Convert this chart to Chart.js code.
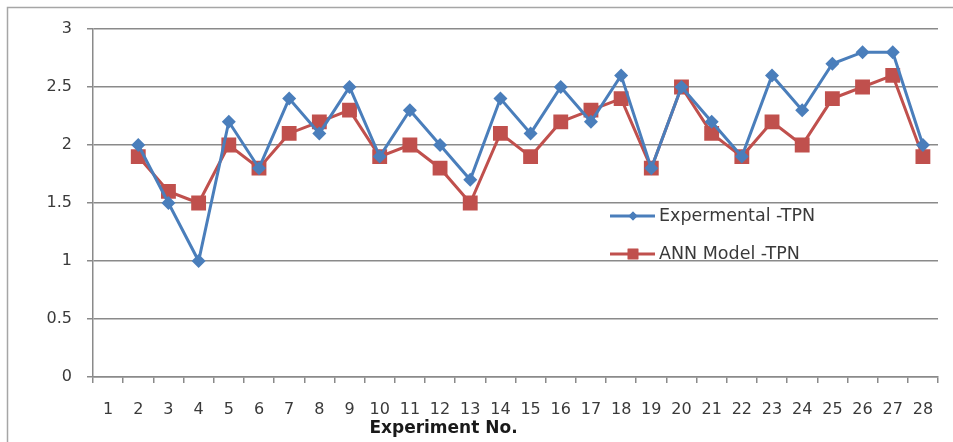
<!DOCTYPE html>
<html>
<head>
<meta charset="utf-8">
<script src="https://cdn.jsdelivr.net/npm/chart.js@4/dist/chart.umd.min.js"></script>
<style>
  html, body { margin: 0; padding: 0; background: #fff; }
  #wrap { width: 953px; height: 442px; }
</style>
</head>
<body>
<div id="wrap"><canvas id="c" width="953" height="442"></canvas></div>
<script>
// Experiment numbers shown on the category axis
const experiments = ['1','2','3','4','5','6','7','8','9','10','11','12','13','14','15','16','17','18','19','20','21','22','23','24','25','26','27','28'];

// Measured TPN values (experiment 1 has no entry)
const experimentalTPN = [null, 2.0, 1.5, 1.0, 2.2, 1.8, 2.4, 2.1, 2.5, 1.9, 2.3, 2.0, 1.7, 2.4, 2.1, 2.5, 2.2, 2.6, 1.8, 2.5, 2.2, 1.9, 2.6, 2.3, 2.7, 2.8, 2.8, 2.0];

// ANN model predictions
const annModelTPN = [null, 1.9, 1.6, 1.5, 2.0, 1.8, 2.1, 2.2, 2.3, 1.9, 2.0, 1.8, 1.5, 2.1, 1.9, 2.2, 2.3, 2.4, 1.8, 2.5, 2.1, 1.9, 2.2, 2.0, 2.4, 2.5, 2.6, 1.9];

// Value axis tick labels
const yTickLabels = ['0', '0.5', '1', '1.5', '2', '2.5', '3'];

const seriesNames = ['Expermental -TPN', 'ANN Model -TPN'];

const BLUE = '#4a7ebb';
const RED = '#c0504d';
const GRID = '#8a8a8a';
const TEXT = '#3a3a3a';
const FONT = '"DejaVu Sans", sans-serif';

// Light frame around the whole chart
const framePlugin = {
  id: 'frame',
  beforeDraw(chart) {
    const ctx = chart.ctx;
    ctx.save();
    ctx.fillStyle = '#fff';
    ctx.fillRect(0, 0, chart.width, chart.height);
    ctx.strokeStyle = '#a6a6a6';
    ctx.lineWidth = 1.5;
    ctx.strokeRect(7.5, 7.5, chart.width + 20, chart.height + 20);
    ctx.restore();
  }
};

// Axis title under the category labels
const axisTitlePlugin = {
  id: 'axisTitle',
  afterDraw(chart) {
    const ctx = chart.ctx;
    ctx.save();
    ctx.font = 'bold 17px ' + FONT;
    ctx.fillStyle = '#1a1a1a';
    ctx.textAlign = 'center';
    ctx.textBaseline = 'alphabetic';
    ctx.fillText('Experiment No.', 443.5, 433);
    ctx.restore();
  }
};

// Legend placed inside the plot area
const innerLegendPlugin = {
  id: 'innerLegend',
  afterDatasetsDraw(chart) {
    const ctx = chart.ctx;
    const items = [
      { name: seriesNames[0], color: BLUE, style: 'rectRot', radius: 4.5, y: 216 },
      { name: seriesNames[1], color: RED, style: 'rect', radius: 7.5, y: 254 }
    ];
    ctx.save();
    items.forEach(it => {
      ctx.strokeStyle = it.color;
      ctx.lineWidth = 3;
      ctx.beginPath();
      ctx.moveTo(610, it.y);
      ctx.lineTo(655, it.y);
      ctx.stroke();
      ctx.fillStyle = it.color;
      Chart.helpers.drawPoint(ctx, { pointStyle: it.style, radius: it.radius, borderWidth: 0, rotation: 0 }, 633, it.y);
      ctx.fill();
      ctx.font = '17.5px ' + FONT;
      ctx.fillStyle = TEXT;
      ctx.textAlign = 'left';
      ctx.textBaseline = 'middle';
      ctx.fillText(it.name, 659, it.y);
    });
    ctx.restore();
  }
};

new Chart(document.getElementById('c'), {
  type: 'line',
  data: {
    labels: experiments,
    datasets: [
      {
        label: seriesNames[0],
        data: experimentalTPN,
        borderColor: BLUE,
        backgroundColor: BLUE,
        borderWidth: 3,
        pointStyle: 'rectRot',
        pointRadius: 7,
        pointHoverRadius: 7,
        pointBorderWidth: 0,
        tension: 0
      },
      {
        label: seriesNames[1],
        data: annModelTPN,
        borderColor: RED,
        backgroundColor: RED,
        borderWidth: 3,
        pointStyle: 'rect',
        pointRadius: 10.5,
        pointHoverRadius: 10.5,
        pointBorderWidth: 0,
        tension: 0
      }
    ]
  },
  options: {
    responsive: false,
    animation: false,
    events: [],
    layout: { padding: { left: 0, top: 29, right: 15, bottom: 0 } },
    plugins: {
      legend: { display: false },
      tooltip: { enabled: false }
    },
    scales: {
      x: {
        type: 'category',
        offset: true,
        grid: {
          offset: true,
          drawOnChartArea: false,
          drawTicks: true,
          tickLength: 6,
          color: GRID,
          lineWidth: 1.5
        },
        border: { color: GRID, width: 1.5 },
        ticks: {
          color: TEXT,
          font: { family: FONT, size: 16 },
          padding: 17,
          maxRotation: 0,
          autoSkip: false
        },
        afterFit(scale) { scale.height = 65; }
      },
      y: {
        min: 0,
        max: 3,
        grid: {
          color: GRID,
          lineWidth: 1.5,
          drawTicks: true,
          tickLength: 6
        },
        border: { color: GRID, width: 1.5 },
        ticks: {
          stepSize: 0.5,
          color: TEXT,
          font: { family: FONT, size: 16 },
          padding: 15,
          callback: (v, i) => yTickLabels[i]
        },
        afterFit(scale) { scale.width = 93; }
      }
    }
  },
  plugins: [framePlugin, axisTitlePlugin, innerLegendPlugin]
});
</script>
</body>
</html>
